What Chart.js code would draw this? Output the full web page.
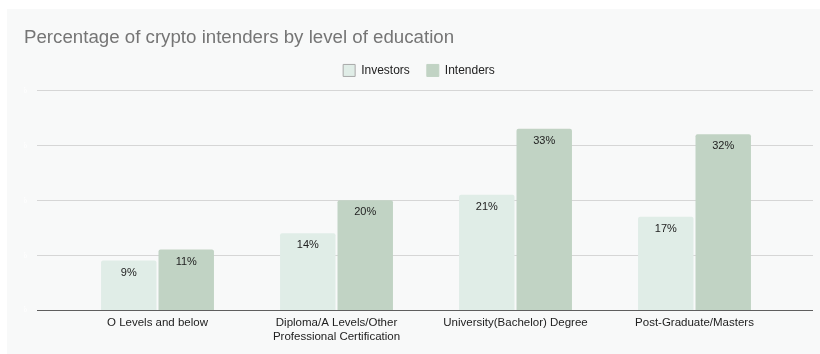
<!DOCTYPE html>
<html>
<head>
<meta charset="utf-8">
<script src="https://cdn.jsdelivr.net/npm/chart.js@4.4.1/dist/chart.umd.min.js"></script>
<style>
  html, body { margin: 0; padding: 0; background: #ffffff; }
  #wrap { width: 820px; height: 354px; }
</style>
</head>
<body>
<div id="wrap"><canvas id="eduChart" width="820" height="354"></canvas></div>
<script>
// data
var categories = [
  ['O Levels and below'],
  ['Diploma/A Levels/Other', 'Professional Certification'],
  ['University(Bachelor) Degree'],
  ['Post-Graduate/Masters']
];
var investors = [9, 14, 21, 17];
var intenders = [11, 20, 33, 32];
var yTicks = [0, 10, 20, 30, 40];

var FONT = "'Liberation Sans', Arial, sans-serif";

// card background + gridlines that run past the plot area
var backdrop = {
  id: 'backdrop',
  afterLayout: function(chart) {
    // legend sits a bit right of centre and higher in the original
    chart.legend.left += 15;
    chart.legend.right += 15;
    chart.legend.top -= 4;
    chart.legend.bottom -= 4;
  },
  beforeDraw: function(chart) {
    var c = chart.ctx;
    c.save();
    c.fillStyle = '#ffffff';
    c.fillRect(0, 0, chart.width, chart.height);
    c.fillStyle = '#f8f9f9';
    c.fillRect(7, 9, chart.width - 7, chart.height - 9);
    c.restore();
  },
  beforeDatasetsDraw: function(chart) {
    var c = chart.ctx, y = chart.scales.y;
    c.save();
    yTicks.forEach(function(v) {
      var py = Math.round(y.getPixelForValue(v)) + 0.5;
      c.strokeStyle = v === 0 ? '#5f5f5f' : '#d6d6d6';
      c.lineWidth = 1;
      c.beginPath();
      c.moveTo(37, py);
      c.lineTo(813, py);
      c.stroke();
    });
    c.restore();
  }
};

// percentage labels just inside the bar tops
var barLabels = {
  id: 'barLabels',
  afterDatasetsDraw: function(chart) {
    var c = chart.ctx;
    c.save();
    c.font = '11px ' + FONT;
    c.fillStyle = '#222222';
    c.textAlign = 'center';
    c.textBaseline = 'middle';
    chart.data.datasets.forEach(function(ds, i) {
      chart.getDatasetMeta(i).data.forEach(function(bar, j) {
        c.fillText(ds.data[j] + '%', bar.x, bar.y + 12);
      });
    });
    c.restore();
  }
};

new Chart(document.getElementById('eduChart'), {
  type: 'bar',
  data: {
    labels: categories,
    datasets: [{
      label: 'Investors',
      data: investors,
      backgroundColor: '#e0ede7',
      borderRadius: { topLeft: 2, topRight: 2 },
      borderSkipped: 'bottom'
    }, {
      label: 'Intenders',
      data: intenders,
      backgroundColor: '#c1d3c4',
      borderRadius: { topLeft: 2, topRight: 2 },
      borderSkipped: 'bottom'
    }]
  },
  options: {
    responsive: false,
    animation: false,
    barPercentage: 0.965,
    categoryPercentage: 0.642,
    layout: { padding: { left: 24, right: 36, top: 0, bottom: 0 } },
    scales: {
      x: {
        grid: { display: false },
        border: { display: false },
        ticks: { color: '#222222', font: { family: FONT, size: 11.5, lineHeight: 1.22 }, padding: -2, maxRotation: 0 },
        afterFit: function(s) { s.height = 44; }
      },
      y: {
        min: 0,
        max: 40,
        grid: { display: false },
        border: { display: false },
        ticks: {
          stepSize: 10,
          color: '#ffffff',
          padding: 33,
          font: { family: FONT, size: 9 },
          callback: function(v) { return v + '%'; }
        },
        afterFit: function(s) { s.width = 44; }
      }
    },
    plugins: {
      title: {
        display: true,
        text: 'Percentage of crypto intenders by level of education',
        align: 'start',
        color: '#757575',
        font: { family: FONT, size: 18.7, weight: 'normal' },
        padding: { top: 27, bottom: 2 }
      },
      legend: {
        labels: {
          boxWidth: 12,
          boxHeight: 12,
          padding: 17,
          color: '#222222',
          font: { family: FONT, size: 12 },
          generateLabels: function(chart) {
            return chart.data.datasets.map(function(ds, i) {
              return {
                text: ds.label,
                fillStyle: ds.backgroundColor,
                strokeStyle: i === 0 ? '#a8a8a8' : ds.backgroundColor,
                lineWidth: 1,
                datasetIndex: i,
                fontColor: '#222222'
              };
            });
          }
        }
      },
      tooltip: { enabled: false }
    }
  },
  plugins: [backdrop, barLabels]
});
</script>
</body>
</html>
